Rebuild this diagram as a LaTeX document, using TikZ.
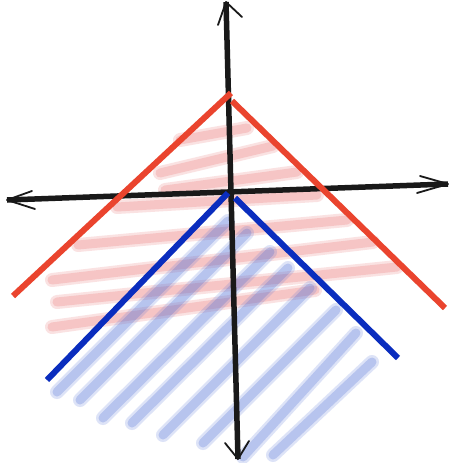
\documentclass[tikz,border=0pt]{standalone}
\definecolor{lred}{RGB}{234,68,46}
\definecolor{lblue}{RGB}{10,45,190}
\definecolor{hred}{RGB}{232,95,95}
\definecolor{hblue}{RGB}{70,105,215}
\definecolor{axc}{RGB}{25,25,25}
\begin{document}
\begin{tikzpicture}[x=1pt,y=-1pt,
  axis/.style={draw=axc,line width=5.5pt},
  barb/.style={draw=axc,line width=1.8pt,line cap=round,line join=round},
  redline/.style={draw=lred,line width=6pt},
  blueline/.style={draw=lblue,line width=6pt},
  redhatch/.style={draw=hred,line width=14pt,line cap=round,opacity=0.18},
  redcore/.style={draw=hred,line width=9pt,line cap=round,opacity=0.22},
  bluehatch/.style={draw=hblue,line width=14pt,line cap=round,opacity=0.18},
  bluecore/.style={draw=hblue,line width=9pt,line cap=round,opacity=0.25}]
\useasboundingbox[fill=white] (0,0) rectangle (449,463);
% red hatching
\foreach \a/\b/\c/\d in {180/140/247/128, 160/173/273/146, 165/190/297/172, 117/207/317/195,
  78/245/347/220, 52/280/373/242, 57/302/397/267, 52/327/315/290}
  {\draw[redhatch] (\a,\b) -- (\c,\d); \draw[redcore] (\a,\b) -- (\c,\d);}
% blue hatching
\foreach \a/\b/\c/\d in {57/392/228/221, 80/400/247/233, 103/418/270/252, 132/423/288/268,
  163/435/310/288, 203/443/336/310, 243/457/356/333, 273/455/372/362}
  {\draw[bluehatch] (\a,\b) -- (\c,\d); \draw[bluecore] (\a,\b) -- (\c,\d);}
% axes
\coordinate (xl) at (7,200);
\coordinate (xr) at (448,184);
\coordinate (yt) at (226,2);
\coordinate (yb) at (238,459);
\draw[axis] (xl) -- (xr);
\draw[axis] (yt) -- (yb);
\draw[barb] (32,191) -- (xl) -- (35,209);
\draw[barb] (420,176) -- (xr) -- (417,193);
\draw[barb] (218,25) -- (yt) -- (242,17);
\draw[barb] (225,443) -- (yb) -- (249,441);
% red boundary
\coordinate (rl) at (13,296);
\coordinate (rt1) at (231,93);
\coordinate (rt2) at (232,101);
\coordinate (rr) at (445,308);
\draw[redline] (rl) -- (rt1);
\draw[redline] (rt2) -- (rr);
% blue boundary
\coordinate (bl) at (47,380);
\coordinate (bt1) at (228,193);
\coordinate (bt2) at (235,198);
\coordinate (br) at (398,358);
\draw[blueline] (bl) -- (bt1);
\draw[blueline] (bt2) -- (br);
\end{tikzpicture}
\end{document}
